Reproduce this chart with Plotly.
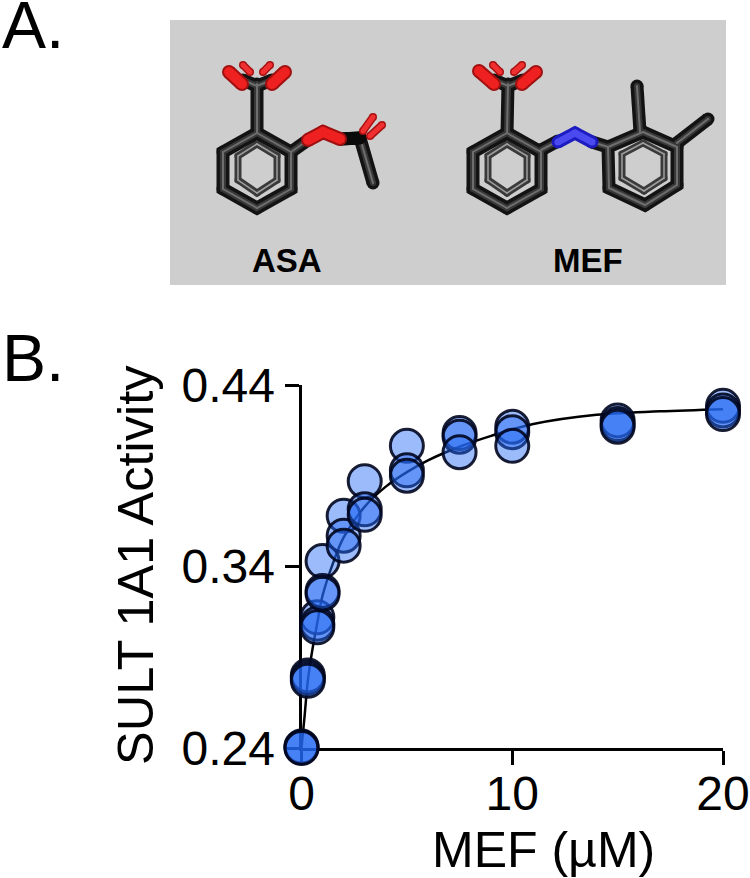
import plotly.graph_objects as go

# MEF titration, three replicates
mef_conc = [0, 0.3, 0.75, 1, 2, 3, 5, 7.5, 10, 15, 20]
activity_a = [0.2408, 0.2800, 0.3120, 0.3430, 0.3680, 0.3870, 0.4065, 0.4135, 0.4170, 0.4205, 0.4285]
activity_b = [0.2404, 0.2785, 0.3085, 0.3265, 0.3570, 0.3715, 0.3930, 0.4115, 0.4140, 0.4185, 0.4260]
activity_c = [0.2400, 0.2770, 0.3065, 0.3250, 0.3515, 0.3685, 0.3900, 0.4030, 0.4065, 0.4170, 0.4240]

# fitted curve
fit_x = [0, 0.15, 0.3, 0.5, 0.75, 1, 1.5, 2, 3, 4, 5, 6, 7.5, 9, 11, 14, 17, 20]
fit_y = [0.2400, 0.2580, 0.2770, 0.2930, 0.3090, 0.3240, 0.3420, 0.3560, 0.3730, 0.3840, 0.3920, 0.3985, 0.4060, 0.4120, 0.4185, 0.4236, 0.4255, 0.4267]

x_ticks = [0, 10, 20]
y_ticks = [0.24, 0.34, 0.44]
y_tick_text = ["0.24", "0.34", "0.44"]

W, H = 750, 878
FONT = "Liberation Sans"

# molecule drawings for panel A, in pixels of the panel
rings = [
    [(257, 133), (291, 152), (291, 189), (257, 208), (223, 189), (223, 152), (257, 133)],
    [(507, 133), (541, 152), (541, 189), (507, 208), (473, 189), (473, 152), (507, 133)],
    [(643, 132), (677, 147), (677, 185), (645, 205), (609, 188), (608, 147), (643, 132)],
]
inner_rings = [
    [(257, 144), (277, 156), (277, 180), (257, 193), (238, 180), (238, 156), (257, 144)],
    [(507, 144), (527, 156), (527, 180), (507, 193), (488, 180), (488, 156), (507, 144)],
    [(643, 143), (664, 154), (664, 178), (644, 191), (622, 178), (622, 154), (643, 143)],
]
dark_bonds = [
    [(257, 133), (257, 84)], [(243, 80), (257, 86), (272, 80)],
    [(291, 152), (308, 140)],
    [(340, 139), (360, 138), (373, 183)],
    [(507, 133), (508, 84)], [(494, 80), (508, 86), (523, 80)],
    [(541, 150), (558, 141)],
    [(592, 142), (608, 147)],
    [(640, 132), (637, 86)],
    [(677, 143), (708, 119)],
]
black_bonds = [[(340, 139), (360, 138)]]
red_bonds = [
    [(242, 84), (229, 72)], [(272, 84), (285, 72)],
    [(494, 84), (479, 71)], [(522, 84), (536, 72)],
    [(308, 140), (323, 132), (340, 139)],
]
red_thin = [
    [(250, 72), (243, 65)], [(263, 72), (270, 65)],
    [(500, 72), (493, 65)], [(514, 72), (522, 65)],
    [(363, 131), (373, 117)], [(370, 136), (382, 125)],
]
blue_bonds = [[(558, 142), (575, 133), (592, 142)]]


def add_path(fig, pts, color, width):
    # markers at the joints round off the line ends
    fig.add_trace(go.Scatter(x=[p[0] for p in pts], y=[p[1] for p in pts], mode="lines+markers",
                             line=dict(color=color, width=width), marker=dict(color=color, size=width),
                             xaxis="x2", yaxis="y2", hoverinfo="skip", showlegend=False))


fig = go.Figure()

# molecules
for ring in inner_rings:
    add_path(fig, ring, "#3a3a3a", 7)
    add_path(fig, ring, "#9e9e9e", 1.5)
for path in rings + dark_bonds:
    add_path(fig, path, "#131313", 13)
for path in rings + dark_bonds:
    add_path(fig, path, "#383838", 6)
for path in rings + dark_bonds:
    add_path(fig, path, "#6e6e6e", 2)
for path in black_bonds:
    add_path(fig, path, "#0a0a0a", 13)
for bond in red_thin:
    add_path(fig, bond, "#a81010", 8)
    add_path(fig, bond, "#f03030", 5)
for bond in red_bonds:
    add_path(fig, bond, "#a01010", 14)
    add_path(fig, bond, "#ee2020", 10)
for bond in blue_bonds:
    add_path(fig, bond, "#1c1cc0", 13)
    add_path(fig, bond, "#4a4af0", 7)

# fit line
fig.add_trace(go.Scatter(x=fit_x, y=fit_y, mode="lines", line=dict(color="black", width=2.5, shape="spline"),
                         cliponaxis=False, showlegend=False))

# replicates
for series in [activity_a, activity_b, activity_c]:
    fig.add_trace(go.Scatter(x=mef_conc, y=series, mode="markers", cliponaxis=False, showlegend=False,
                             marker=dict(size=33, color="rgba(35,105,245,0.45)",
                                         line=dict(color="rgba(0,5,30,0.9)", width=3))))

fig.add_shape(type="rect", xref="x2", yref="y2", x0=170, x1=726, y0=20, y1=285,
              fillcolor="#cecece", line_width=0, layer="below")

for txt, x, y, size, weight in [("A.", 0, 25, 66, "normal"), ("B.", 0, 357.5, 66, "normal"),
                                ("ASA", 287, 260, 33, "bold"), ("MEF", 588, 260, 33, "bold")]:
    fig.add_annotation(text=txt, x=x, y=y, xref="x2", yref="y2", showarrow=False,
                       xanchor="left" if txt.endswith(".") else "center", yanchor="middle",
                       font=dict(family=FONT, size=size, color="black", weight=weight))

fig.add_annotation(text="SULT 1A1 Activity", x=135, y=565, xref="x2", yref="y2", showarrow=False,
                   textangle=-90, font=dict(family=FONT, size=50.5, color="black"))
fig.add_annotation(text="MEF (µM)", x=543, y=850, xref="x2", yref="y2", showarrow=False,
                   font=dict(family=FONT, size=50, color="black"))

fig.update_layout(
    width=W, height=H, margin=dict(l=0, r=0, t=0, b=0, pad=0, autoexpand=False),
    paper_bgcolor="white", plot_bgcolor="rgba(0,0,0,0)",
    showlegend=False, font=dict(family=FONT, color="black"),
    xaxis=dict(domain=[301.5 / W, 723 / W], range=[0, 20], tickvals=x_ticks, ticks="outside", ticklen=14,
               tickwidth=3, tickcolor="black", showline=True, linewidth=3, linecolor="black",
               showgrid=False, zeroline=False, layer="below traces", tickfont=dict(size=48, family=FONT),
               ticklabelstandoff=-13, anchor="y"),
    yaxis=dict(domain=[(H - 748) / H, (H - 385) / H], range=[0.24, 0.44], tickvals=y_ticks, ticktext=y_tick_text,
               ticks="outside", ticklen=14, tickwidth=3, tickcolor="black", showline=True, linewidth=3,
               linecolor="black", showgrid=False, zeroline=False, layer="below traces",
               tickfont=dict(size=48, family=FONT), anchor="x"),
    xaxis2=dict(domain=[0, 1], range=[0, W], visible=False, anchor="y2"),
    yaxis2=dict(domain=[0, 1], range=[H, 0], visible=False, anchor="x2"),
)

# the page's default body margin would push the figure 8px in
fig.write_html("out.html", config=dict(displayModeBar=False), post_script="document.body.style.margin='0';")
